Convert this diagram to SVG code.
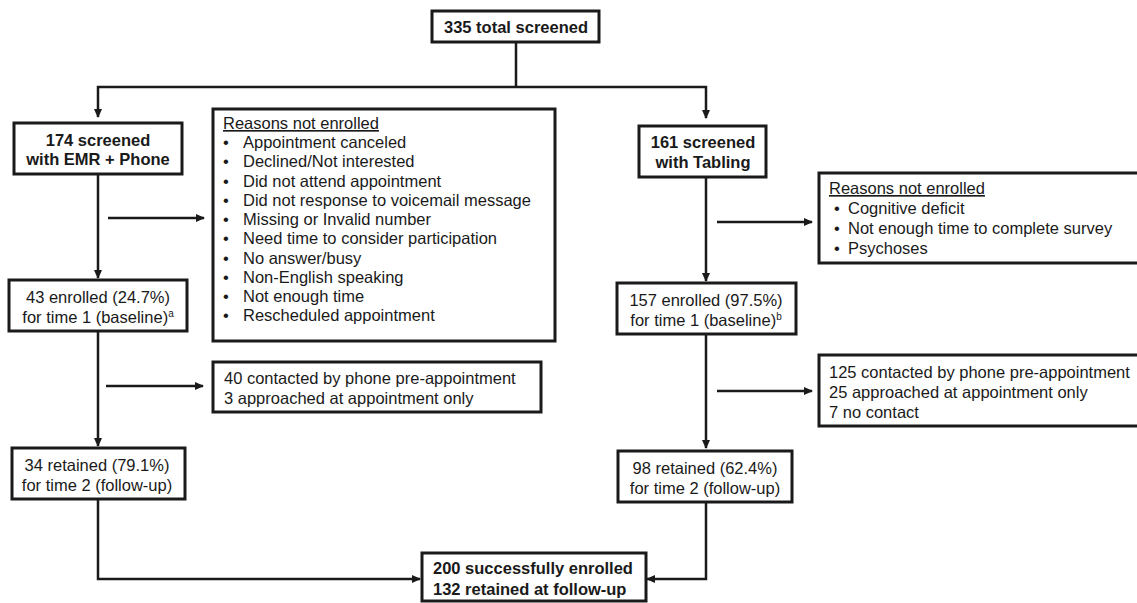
<svg xmlns="http://www.w3.org/2000/svg" width="1137" height="603" viewBox="0 0 1137 603">
<style>
.box{fill:#fff;stroke:#1a1a1a;stroke-width:3}
.t{font-family:"Liberation Sans",Arial,sans-serif;font-size:16.5px;fill:#1a1a1a}
.b{font-weight:bold}
.c{text-anchor:middle}
.sup{font-size:10px}
.ln{fill:none;stroke:#1a1a1a;stroke-width:2.5}
</style>
<defs>
<marker id="ah" markerWidth="9" markerHeight="8" refX="8" refY="4" orient="auto" markerUnits="userSpaceOnUse">
<path d="M0,0 L9,4 L0,8 z" fill="#1a1a1a"/>
</marker>
</defs>
<rect width="1137" height="603" fill="#fff"/>
<g id="connectors">
<path class="ln" d="M516,42 V87"/>
<path class="ln" d="M516,87 H98 V117" marker-end="url(#ah)"/>
<path class="ln" d="M516,87 H706 V118" marker-end="url(#ah)"/>
<path class="ln" d="M98,174 V278" marker-end="url(#ah)"/>
<path class="ln" d="M108,218 H204" marker-end="url(#ah)"/>
<path class="ln" d="M98,331 V446" marker-end="url(#ah)"/>
<path class="ln" d="M106,386 H203" marker-end="url(#ah)"/>
<path class="ln" d="M98,499 V579 H420" marker-end="url(#ah)"/>
<path class="ln" d="M706,177 V281" marker-end="url(#ah)"/>
<path class="ln" d="M717,222 H812" marker-end="url(#ah)"/>
<path class="ln" d="M706,334 V448" marker-end="url(#ah)"/>
<path class="ln" d="M717,391 H812" marker-end="url(#ah)"/>
<path class="ln" d="M706,502 V579 H647" marker-end="url(#ah)"/>
</g>
<g id="total">
<rect class="box" x="432" y="11" width="167" height="31"/>
<text class="t b c" x="516" y="33">335 total screened</text>
</g>
<g id="emr">
<rect class="box" x="14" y="123" width="168" height="51"/>
<text class="t b c" x="98" y="146">174 screened</text>
<text class="t b c" x="98" y="165">with EMR + Phone</text>
</g>
<g id="reasons-left">
<rect class="box" x="213" y="109" width="342" height="232"/>
<text class="t" x="223" y="129" text-decoration="underline">Reasons not enrolled</text>
<g class="t">
<text x="223" y="148">•</text><text x="243" y="148">Appointment canceled</text>
<text x="223" y="167">•</text><text x="243" y="167">Declined/Not interested</text>
<text x="223" y="187">•</text><text x="243" y="187">Did not attend appointment</text>
<text x="223" y="206">•</text><text x="243" y="206">Did not response to voicemail message</text>
<text x="223" y="225">•</text><text x="243" y="225">Missing or Invalid number</text>
<text x="223" y="244">•</text><text x="243" y="244">Need time to consider participation</text>
<text x="223" y="264">•</text><text x="243" y="264">No answer/busy</text>
<text x="223" y="283">•</text><text x="243" y="283">Non-English speaking</text>
<text x="223" y="302">•</text><text x="243" y="302">Not enough time</text>
<text x="223" y="321">•</text><text x="243" y="321">Rescheduled appointment</text>
</g>
</g>
<g id="enrolled-left">
<rect class="box" x="9" y="280" width="178" height="51"/>
<text class="t c" x="98" y="303">43 enrolled (24.7%)</text>
<text class="t c" x="98" y="323">for time 1 (baseline)<tspan class="sup" dy="-6">a</tspan></text>
</g>
<g id="contact-left">
<rect class="box" x="213" y="362" width="328" height="50"/>
<text class="t" x="224" y="384">40 contacted by phone pre-appointment</text>
<text class="t" x="224" y="404">3 approached at appointment only</text>
</g>
<g id="retained-left">
<rect class="box" x="12" y="448" width="173" height="51"/>
<text class="t c" x="97" y="471">34 retained (79.1%)</text>
<text class="t c" x="97" y="491">for time 2 (follow-up)</text>
</g>
<g id="tabling">
<rect class="box" x="639" y="126" width="127" height="51"/>
<text class="t b c" x="703" y="148">161 screened</text>
<text class="t b c" x="703" y="168">with Tabling</text>
</g>
<g id="reasons-right">
<rect class="box" x="819" y="173" width="320" height="90"/>
<text class="t" x="829" y="194" text-decoration="underline">Reasons not enrolled</text>
<g class="t">
<text x="834" y="214">•</text><text x="848" y="214">Cognitive deficit</text>
<text x="834" y="234">•</text><text x="848" y="234">Not enough time to complete survey</text>
<text x="834" y="254">•</text><text x="848" y="254">Psychoses</text>
</g>
</g>
<g id="enrolled-right">
<rect class="box" x="617" y="283" width="179" height="51"/>
<text class="t c" x="706" y="306">157 enrolled (97.5%)</text>
<text class="t c" x="706" y="326">for time 1 (baseline)<tspan class="sup" dy="-6">b</tspan></text>
</g>
<g id="contact-right">
<rect class="box" x="819" y="355" width="320" height="71"/>
<text class="t" x="829" y="378">125 contacted by phone pre-appointment</text>
<text class="t" x="829" y="398">25 approached at appointment only</text>
<text class="t" x="829" y="418">7 no contact</text>
</g>
<g id="retained-right">
<rect class="box" x="618" y="451" width="174" height="51"/>
<text class="t c" x="705" y="474">98 retained (62.4%)</text>
<text class="t c" x="705" y="494">for time 2 (follow-up)</text>
</g>
<g id="total-enrolled">
<rect class="box" x="422" y="553" width="224" height="48"/>
<text class="t b" x="433" y="574">200 successfully enrolled</text>
<text class="t b" x="433" y="595">132 retained at follow-up</text>
</g>
</svg>
